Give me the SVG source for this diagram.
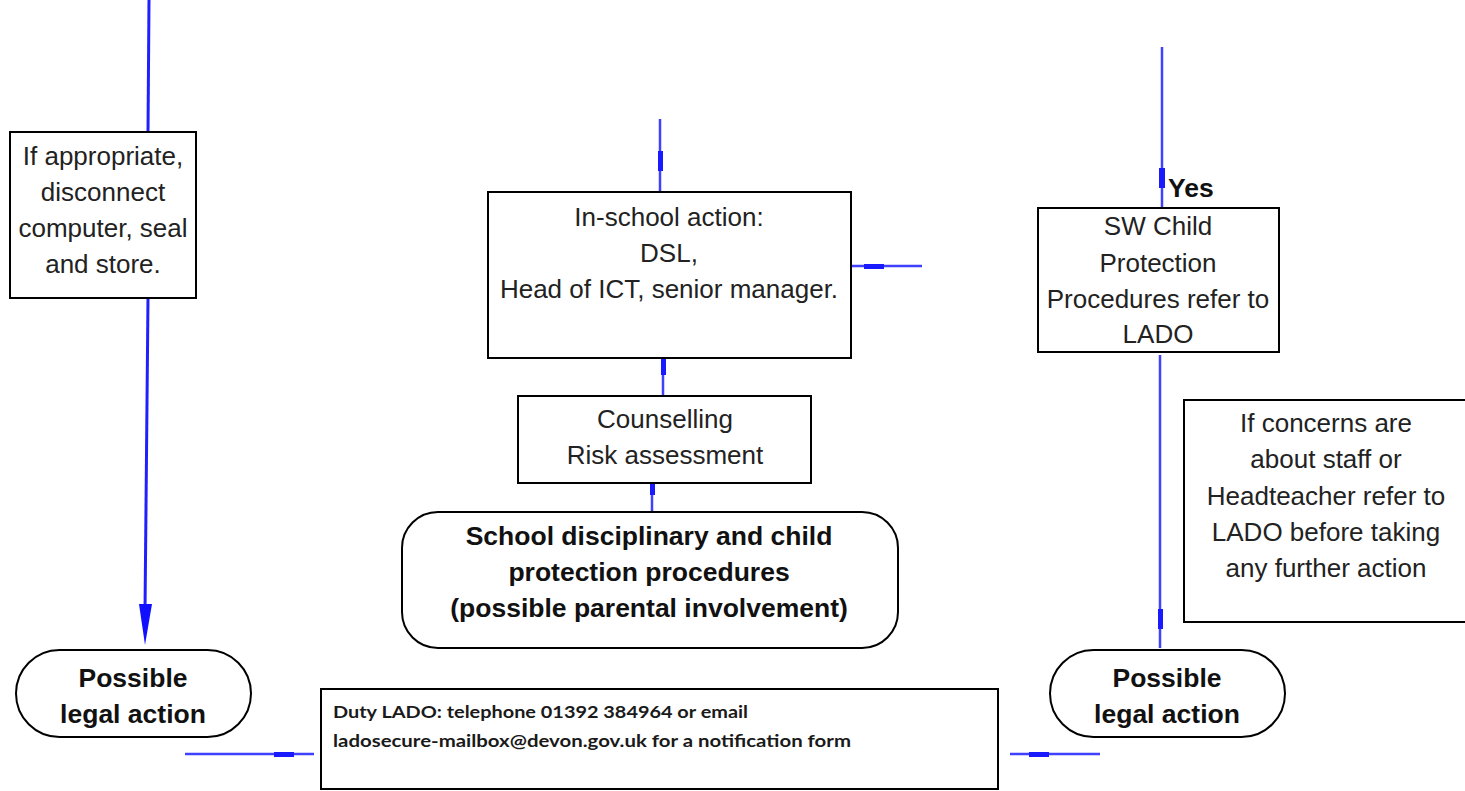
<svg xmlns="http://www.w3.org/2000/svg" width="1465" height="791" viewBox="0 0 1465 791">
<style>
.box{fill:#fff;stroke:#000;stroke-width:2}
.t{font-family:"Liberation Sans",Arial,sans-serif;font-size:26px;fill:#222;text-anchor:middle}
.b{font-weight:bold;font-size:26.5px;fill:#111}
.c{fill:none;stroke:#4040ff;stroke-width:2.5}
.m{fill:#1a1aff}
.small{font-family:Lato,"Open Sans",sans-serif;font-size:17px;font-weight:bold;fill:#1a1a1a}
</style>
<rect width="1465" height="791" fill="#fff"/>
<g id="connectors">
<path class="c" d="M149,0 L148,132" style="stroke:#2020ff;stroke-width:3"/>
<path class="c" d="M148,298 L145,612" style="stroke:#2020ff;stroke-width:3"/>
<polygon points="139,604 152,604 145,645" fill="#1010ff"/>
<path class="c" d="M185,754 L314,754"/>
<rect class="m" x="274" y="752" width="20" height="5"/>
<path class="c" d="M660,119 L660,192"/>
<rect class="m" x="658" y="151" width="5" height="20"/>
<path class="c" d="M852,266 L922,266"/>
<rect class="m" x="864" y="264" width="20" height="5"/>
<path class="c" d="M663,358 L663,395"/>
<rect class="m" x="661" y="355" width="5" height="20"/>
<path class="c" d="M652,483 L652,513"/>
<rect class="m" x="650" y="475" width="5" height="20"/>
<path class="c" d="M1162,47 L1162,207"/>
<rect class="m" x="1159" y="168" width="6" height="20"/>
<path class="c" d="M1160,355 L1160,648"/>
<rect class="m" x="1158" y="609" width="5" height="20"/>
<path class="c" d="M1010,754 L1100,754"/>
<rect class="m" x="1029" y="752" width="20" height="5"/>
</g>
<g id="node-disconnect">
<rect class="box" x="10" y="132" width="186" height="166"/>
<text class="t" x="103" y="165">If appropriate,</text>
<text class="t" x="103" y="201">disconnect</text>
<text class="t" x="103" y="237">computer, seal</text>
<text class="t" x="103" y="273">and store.</text>
</g>
<g id="node-legal-left">
<rect class="box" x="16" y="650" width="235" height="87" rx="43.5"/>
<text class="t b" x="133" y="687">Possible</text>
<text class="t b" x="133" y="723">legal action</text>
</g>
<g id="node-inschool">
<rect class="box" x="488" y="192" width="363" height="166"/>
<text class="t" x="669" y="226">In-school action:</text>
<text class="t" x="669" y="262">DSL,</text>
<text class="t" x="669" y="298">Head of ICT, senior manager.</text>
</g>
<g id="node-counselling">
<rect class="box" x="518" y="396" width="293" height="87"/>
<text class="t" x="665" y="428">Counselling</text>
<text class="t" x="665" y="464">Risk assessment</text>
</g>
<g id="node-school">
<rect class="box" x="402" y="512" width="496" height="136" rx="36"/>
<text class="t b" x="649" y="545">School disciplinary and child</text>
<text class="t b" x="649" y="581">protection procedures</text>
<text class="t b" x="649" y="617">(possible parental involvement)</text>
</g>
<g id="node-sw">
<text class="t b" x="1168" y="197" style="text-anchor:start">Yes</text>
<rect class="box" x="1038" y="208" width="241" height="144"/>
<text class="t" x="1158" y="235">SW Child</text>
<text class="t" x="1158" y="272">Protection</text>
<text class="t" x="1158" y="308">Procedures refer to</text>
<text class="t" x="1158" y="343">LADO</text>
</g>
<g id="node-concerns">
<rect class="box" x="1184" y="400" width="300" height="222"/>
<text class="t" x="1326" y="432">If concerns are</text>
<text class="t" x="1326" y="468">about staff or</text>
<text class="t" x="1326" y="505">Headteacher refer to</text>
<text class="t" x="1326" y="541">LADO before taking</text>
<text class="t" x="1326" y="577">any further action</text>
</g>
<g id="node-legal-right">
<rect class="box" x="1050" y="650" width="235" height="87" rx="43.5"/>
<text class="t b" x="1167" y="687">Possible</text>
<text class="t b" x="1167" y="723">legal action</text>
</g>
<g id="node-lado">
<rect class="box" x="321" y="689" width="677" height="100"/>
<text class="small" x="333" y="718" textLength="415" lengthAdjust="spacingAndGlyphs">Duty LADO:  telephone 01392 384964 or email</text>
<text class="small" x="333" y="747" textLength="518" lengthAdjust="spacingAndGlyphs">ladosecure-mailbox@devon.gov.uk for a notification form</text>
</g>
</svg>
